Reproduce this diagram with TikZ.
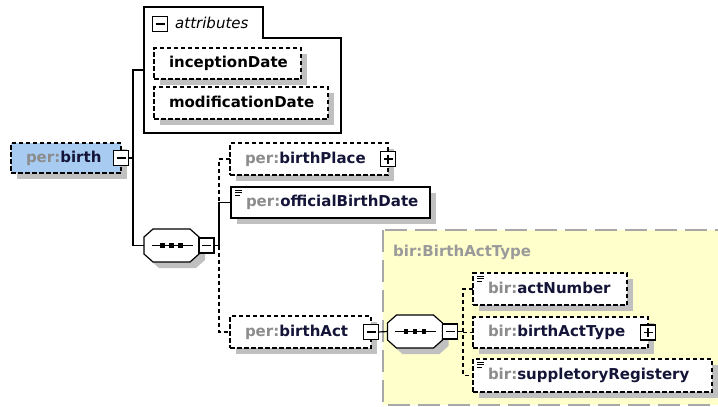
\documentclass[tikz,border=0pt]{standalone}
\usepackage{fontspec}
\setmainfont{DejaVu Sans}
\usetikzlibrary{shadows}
\definecolor{pregray}{HTML}{8C8C8C}
\definecolor{namecol}{HTML}{141438}
\definecolor{yellowbg}{HTML}{FFFFCC}
\definecolor{regionline}{HTML}{A8A8A8}
\definecolor{regiontext}{HTML}{9A9A9A}
\definecolor{shadowgray}{HTML}{C0C0C0}
\definecolor{birthfill}{HTML}{A8CBF2}
\newcommand\pfx[2]{\textcolor{pregray}{#1:}\textcolor{namecol}{#2}}
\tikzset{
  every node/.style={font=\fontsize{15}{18}\selectfont\bfseries},
  conn/.style={line width=1.2pt, black},
  busdash/.style={conn, dash pattern=on 4pt off 3pt},
  elbox/.style={draw, line width=1.2pt, dash pattern=on 4.5pt off 2.5pt, fill=white,
    inner xsep=15pt, inner ysep=0pt, outer sep=0pt, align=left,
    text height=11pt, text depth=3pt,
    drop shadow={shadow xshift=6pt, shadow yshift=-6pt, fill=shadowgray, opacity=1}},
  reqbox/.style={elbox, solid},
  simpleicon/.style={path picture={
    \draw[solid, line width=0.8pt, black]
      ([shift={(4pt,-3pt)}]path picture bounding box.north west) -- ++(7pt,0pt)
      ([shift={(4pt,-5.5pt)}]path picture bounding box.north west) -- ++(7pt,0pt)
      ([shift={(4pt,-8pt)}]path picture bounding box.north west) -- ++(5pt,0pt);}},
  btn/.style={draw, solid, fill=white, line width=1.2pt, minimum size=15pt,
    inner sep=0pt, outer sep=0pt},
  minusbtn/.style={btn, path picture={
    \draw[solid, line width=1.2pt]
      ([xshift=3pt]path picture bounding box.west) -- ([xshift=-3pt]path picture bounding box.east);}},
  plusbtn/.style={btn, path picture={
    \draw[solid, line width=1.2pt]
      ([xshift=3pt]path picture bounding box.west) -- ([xshift=-3pt]path picture bounding box.east)
      ([yshift=-3pt]path picture bounding box.north) -- ([yshift=3pt]path picture bounding box.south);}},
  seq/.pic={
    \fill[shadowgray, shift={(6,6)}] (-27.5,-8.5) -- (-18.5,-16.5) -- (18.5,-16.5) -- (27.5,-8.5)
      -- (27.5,8.5) -- (18.5,16.5) -- (-18.5,16.5) -- (-27.5,8.5) -- cycle;
    \draw[fill=white, line width=1.2pt] (-27.5,-8.5) -- (-18.5,-16.5) -- (18.5,-16.5) -- (27.5,-8.5)
      -- (27.5,8.5) -- (18.5,16.5) -- (-18.5,16.5) -- (-27.5,8.5) -- cycle;
    \node[inner sep=0pt, outer sep=0pt, minimum width=55pt, minimum height=33pt] (-c) at (0,0) {};
    \draw[line width=1.2pt] (-20,0) -- (21,0);
    \fill (-9,0) +(-2.4,-2.4) rectangle +(2.4,2.4);
    \fill (0,0) +(-2.4,-2.4) rectangle +(2.4,2.4);
    \fill (9,0) +(-2.4,-2.4) rectangle +(2.4,2.4);
  }
}
\begin{document}
\begin{tikzpicture}[x=1pt, y=-1pt]
\useasboundingbox (0,0) rectangle (718,407);

% complex type region
\draw[fill=yellowbg, draw=regionline, line width=2pt, dash pattern=on 22pt off 8pt]
  (383,230) rectangle (745,405);
\node[anchor=west, text=regiontext, inner sep=0pt] (typelabel) at (393,252) {bir:BirthActType};

% attributes container
\draw[line width=1.2pt] (144,7) -- (263,7) -- (263,38) -- (341,38) -- (341,133) -- (144,133) -- cycle;
\coordinate (attrL) at (144,70);
\node[minusbtn] (attrbtn) at (160,24) {};
\node[anchor=west, inner sep=0pt, font=\fontsize{15}{18}\selectfont\mdseries\itshape] (attrlabel) at (175,23) {attributes};
\node[elbox, text width=117pt, minimum height=31pt] (incep) at (227.5,63.5) {inceptionDate};
\node[elbox, text width=144pt, minimum height=32pt] (modif) at (241,103) {modificationDate};

% root element
\node[elbox, fill=birthfill, text width=80pt, minimum height=30pt] (birth) at (66,158) {\pfx{per}{birth}};
\node[minusbtn] (bminus) at (birth.east) {};

% sequence 1
\pic (seq1) at (171.5,245.5) {seq};
\node[minusbtn, anchor=west] (s1btn) at (seq1-c.east) {};

% children of birth
\node[elbox, text width=128pt, minimum height=32pt] (bplace) at (309,159) {\pfx{per}{birthPlace}};
\node[plusbtn] (bplacebtn) at (bplace.east) {};
\node[reqbox, simpleicon, text width=169pt, minimum height=31pt] (obd) at (330.5,202.5) {\pfx{per}{officialBirthDate}};
\node[elbox, text width=111pt, minimum height=32pt] (bact) at (300.5,332) {\pfx{per}{birthAct}};
\node[minusbtn] (bactbtn) at (bact.east) {};

% sequence 2
\pic (seq2) at (415,331.5) {seq};
\node[minusbtn, anchor=west] (s2btn) at (seq2-c.east) {};

% children of birthAct type
\node[elbox, simpleicon, text width=124pt, minimum height=32pt] (actn) at (550,289) {\pfx{bir}{actNumber}};
\node[elbox, text width=145pt, minimum height=31pt] (bat) at (560.5,332.5) {\pfx{bir}{birthActType}};
\node[plusbtn] (batbtn) at (bat.east) {};
\node[elbox, simpleicon, text width=209pt, minimum height=33pt] (supp) at (592.5,375.5) {\pfx{bir}{suppletoryRegistery}};

% connectors
\coordinate (ja) at (133,70);
\coordinate (bus1) at (219,0);
\coordinate (bus2) at (463,0);
\draw[conn] (bminus.east) -- (ja |- bminus.east);
\draw[conn] (attrL) -- (ja) -- (ja |- seq1-c.west) -- (seq1-c.west);
\draw[busdash] (bplace.west) -| (bus1 |- obd.west);
\draw[conn] (obd.west) -| (bus1 |- s1btn.east) -- (s1btn.east);
\draw[busdash] (bus1 |- s1btn.east) |- (bact.west);
\draw[conn] (bactbtn.east) -- (seq2-c.west);
\draw[conn] (s2btn.east) -- (bus2 |- s2btn.east);
\draw[busdash] (actn.west) -| (bus2 |- supp.west) -- (supp.west);
\draw[busdash] (bus2 |- bat.west) -- (bat.west);
\end{tikzpicture}
\end{document}
